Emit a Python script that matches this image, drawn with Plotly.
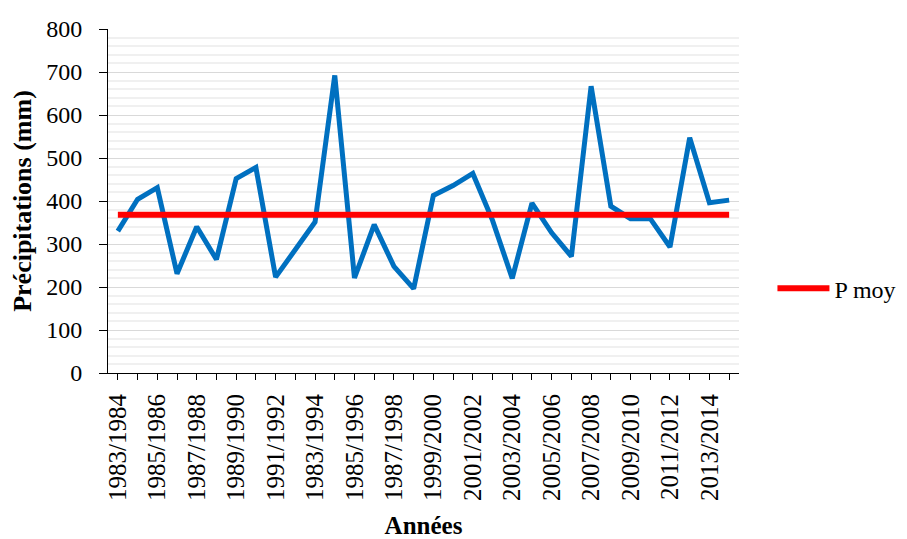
import plotly.graph_objects as go

annees = [
    "1983/1984", "1984/1985", "1985/1986", "1986/1987", "1987/1988", "1988/1989",
    "1989/1990", "1990/1991", "1991/1992", "1992/1993", "1983/1994", "1994/1995",
    "1985/1996", "1996/1997", "1987/1998", "1998/1999", "1999/2000", "2000/2001",
    "2001/2002", "2002/2003", "2003/2004", "2004/2005", "2005/2006", "2006/2007",
    "2007/2008", "2008/2009", "2009/2010", "2010/2011", "2011/2012", "2012/2013",
    "2013/2014", "2014/2015",
]
precipitations = [
    330, 404, 431, 231, 340, 264, 452, 478, 223, 288, 351, 692,
    221, 345, 248, 196, 413, 436, 464, 355, 220, 395, 326, 271,
    667, 388, 359, 359, 293, 547, 396, 402,
]
p_moy = 368
tick_labels = [a if i % 2 == 0 else "" for i, a in enumerate(annees)]

FONT = "Liberation Serif"

fig = go.Figure()
fig.add_trace(go.Scatter(
    x=annees, y=precipitations, mode="lines", name="Précipitations",
    line=dict(color="#0070C0", width=5), showlegend=False,
))
fig.add_trace(go.Scatter(
    x=annees, y=[p_moy] * len(annees), mode="lines", name="P moy",
    line=dict(color="#FF0000", width=6), showlegend=True,
))

fig.update_layout(
    width=899, height=531,
    margin=dict(l=100, r=168, t=21, b=166, autoexpand=False),
    paper_bgcolor="white", plot_bgcolor="white",
    font=dict(family=FONT, size=22, color="black"),
    legend=dict(x=1.053, y=0.245, xanchor="left", yanchor="middle",
                font=dict(family=FONT, size=24, color="black"),
                bgcolor="rgba(0,0,0,0)", itemwidth=52),
    xaxis=dict(
        type="category", tickmode="array", tickvals=annees, ticktext=tick_labels,
        tickangle=-90, ticks="outside", ticklen=6, tickcolor="black",
        showline=True, linecolor="black", linewidth=1, showgrid=False,
        range=[-0.5, len(annees) - 0.5], automargin=False,
        ticklabelstandoff=4,
        title=dict(text="<b>Années</b>", font=dict(family=FONT, size=25, color="black"), standoff=16),
        tickfont=dict(family=FONT, size=25, color="black"),
    ),
    yaxis=dict(
        range=[0, 800], dtick=100, ticks="outside", ticklen=8, tickcolor="black",
        showline=True, linecolor="black", linewidth=1, automargin=False,
        showgrid=True, gridcolor="#d9d9d9", gridwidth=1,
        minor=dict(dtick=20, showgrid=True, gridcolor="#f0f0f0", gridwidth=2, ticks=""),
        zeroline=False, ticklabelstandoff=12,
        title=dict(text="<b>Précipitations (mm)</b>", font=dict(family=FONT, size=26, color="black"), standoff=10),
        tickfont=dict(family=FONT, size=24, color="black"),
    ),
)

fig.write_html("out.html")
